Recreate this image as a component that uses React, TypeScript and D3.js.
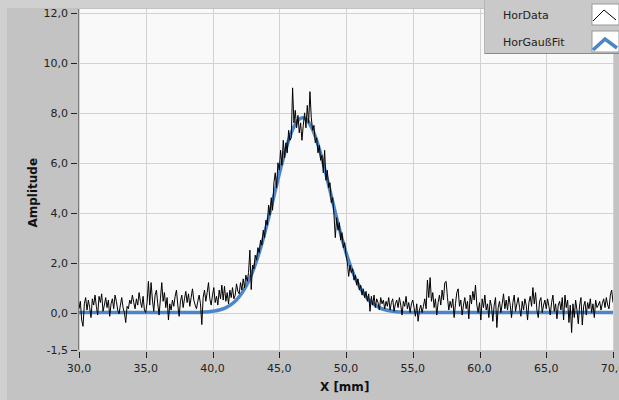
import React, { useRef, useEffect } from 'react';
import * as d3 from 'd3';

// measured signal, one value every 0.1 mm from 30,0 to 70,0
const dataStart = 30;
const dataStep = 0.1;
const horData = [
  0.15, 0.45, -0.3, -0.55, 0.35, 0.6, 0.1, 0.5, 0.2, -0.2,
  0.55, 0.3, 0.7, 0.25, -0.1, 0.65, 0.4, 0.75, 0.05, 0.3,
  0.6, 0.2, 0.5, -0.15, 0.35, 0.55, 0.15, 0.7, 0.45, 0.1,
  -0.05, 0.3, 0.6, 0.2, 0.0, -0.4, 0.25, 0.15, 0.5, 0.35,
  0.7, 0.4, 0.15, 0.55, 0.3, 0.8, 0.45, 0.2, 0.65, 0.1,
  0.0, 0.4, 1.25, 0.3, 1.2, 0.5, 0.05, 0.7, 0.9, 0.35,
  -0.1, 0.55, 1.2, 0.45, 0.8, 0.2, 0.6, -0.3, 0.35, 0.1,
  0.5, 0.25, 0.65, 0.9, 0.3, -0.15, 0.45, 0.7, 0.2, 0.55,
  0.85, 0.4, 0.75, 0.25, 0.6, 0.95, 0.5, 0.3, 0.15, 0.45,
  0.7, 0.35, -0.48, 0.6, 0.9, 0.45, 0.8, 1.2, 0.55, 0.3,
  0.7, 1.0, 0.4, 0.65, 0.3, 0.9, 0.55, 1.1, 0.5, 1.05,
  0.45, 0.8, 0.35, 0.9, 0.6, 1.0, 0.55, 0.7, 1.15, 0.85,
  0.75, 1.2, 0.9, 1.35, 1.0, 1.5, 1.25, 1.6, 2.5, 0.92,
  1.9, 1.75, 2.3, 2.1, 2.6, 2.4, 2.9, 2.7, 3.3, 3.0,
  3.7, 3.5, 4.3, 3.9, 4.6, 4.1, 5.2, 5.6, 5.0, 6.0,
  5.7, 6.5, 5.9, 6.9, 6.2, 6.8, 6.4, 7.3, 6.9, 7.0,
  9.0, 7.6, 8.1, 7.4, 7.9, 7.2, 7.6, 6.9, 7.5, 8.0,
  7.4, 8.3, 7.6, 8.85, 7.8, 7.3, 7.5, 6.8, 7.0, 6.4,
  6.7, 6.1, 6.3, 5.6, 6.5, 5.3, 5.7, 5.0, 5.2, 4.4,
  4.6, 3.9, 3.0, 3.8, 3.3, 3.6, 2.9, 3.2, 2.6, 2.8,
  2.3, 2.0, 1.45, 1.9, 1.6, 1.75, 1.3, 1.5, 1.1, 1.35,
  0.9, 1.1, 0.7, 0.95, 0.6, 0.85, 0.45, 0.75, 0.05, 0.65,
  0.3, 0.7, 0.2, 0.55, 0.4, 0.1, 0.6, 0.35, 0.5, 0.15,
  0.45, 0.25, 0.6, 0.1, 0.4, 0.55, 0.05, 0.35, 0.5, 0.2,
  0.6, 0.3, -0.1, 0.45, 0.25, 0.65, 0.15, 0.4, 0.0, 0.35,
  0.5, 0.2, -0.15, 0.35, -0.35, 0.1, 0.3, 0.0, 0.25, 0.55,
  0.15, 1.3, 0.6, 1.4, 0.45, 0.8, 0.2, 0.55, -0.1, 0.4,
  0.7, 0.3, 0.9, 0.5, 1.2, 1.25, 0.6, 0.1, 0.45, 0.2,
  0.55, -0.2, 0.35, 0.8, 0.95, 0.25, 0.5, -0.1, 0.3, 0.6,
  0.15, 0.45, -0.25, 0.7, 0.35, 0.85, 0.5, 1.1, 0.3, 0.0,
  0.4, -0.3, 0.55, 0.2, 0.7, 0.1, 0.35, -0.2, 0.5, 0.25,
  -0.35, 0.3, 0.6, -0.6, 0.2, 0.45, 0.0, 0.35, 0.75, 0.15,
  0.5, 0.1, 0.65, 0.3, -0.2, 0.4, 0.7, 0.05, 0.35, 0.6,
  0.2, -0.15, 0.45, 0.1, 0.55, 0.3, -0.3, 0.4, 0.65, 0.25,
  1.0, 0.35, 0.8, 0.1, -0.2, 0.45, 0.6, 0.0, 0.3, 0.5,
  0.15, 0.55, 0.25, -0.1, 0.4, 0.7, 0.05, 0.35, -0.25, 0.3,
  0.45, 0.1, 0.6, -0.3, 0.7, 0.2, 0.5, -0.4, 0.3, -0.8,
  0.35, -0.2, 0.5, 0.1, -0.45, 0.3, 0.6, -0.5, 0.25, 0.45,
  -0.1, 0.4, 0.15, 0.55, 0.0, 0.35, -0.2, 0.5, 0.2, 0.3,
  0.45, 0.1, 0.35, 0.55, 0.2, 0.6, 0.3, 0.15, 0.7, 0.9,
  0.4
];

// gauss fit, one value every 0.25 mm from 30,0 to 70,0
const fitStep = 0.25;
const horGaussFit = [
  0, 0, 0, 0, 0, 0, 0, 0, 0, 0,
  0, 0, 0, 0, 0, 0, 0, 0, 0, 0,
  0, 0, 0, 0, 0, 0, 0, 0, 0, 0,
  0, 0, 0, 0, 0, 0, 0,
  0.015, 0.023, 0.033, 0.049, 0.071, 0.101, 0.142, 0.197, 0.27, 0.363,
  0.483, 0.634, 0.82, 1.046, 1.316, 1.632, 1.997, 2.409, 2.866, 3.363,
  3.892, 4.442, 4.999, 5.548, 6.073, 6.556, 6.979, 7.327, 7.586, 7.746,
  7.8,
  7.746, 7.586, 7.327, 6.979, 6.556, 6.073, 5.548, 4.999, 4.442, 3.892,
  3.363, 2.866, 2.409, 1.997, 1.632, 1.316, 1.046, 0.82, 0.634, 0.483,
  0.363, 0.27, 0.197, 0.142, 0.101, 0.071, 0.049, 0.033, 0.023, 0.015,
  0, 0, 0, 0, 0, 0, 0, 0, 0, 0,
  0, 0, 0, 0, 0, 0, 0, 0, 0, 0,
  0, 0, 0, 0, 0, 0, 0, 0, 0, 0,
  0, 0, 0, 0, 0, 0, 0, 0, 0, 0,
  0, 0, 0, 0, 0, 0, 0, 0, 0, 0,
  0, 0, 0, 0, 0, 0, 0, 0, 0, 0,
  0, 0, 0
];

const xTicks = [30, 35, 40, 45, 50, 55, 60, 65, 70];
const yTicks = [-1.5, 0, 2, 4, 6, 8, 10, 12];
const legendLabels = ['HorData', 'HorGaußFit'];

const fitColor = '#4d86c6';
const font = 'Tahoma, "DejaVu Sans", sans-serif';

const HorProfile = () => {
  const ref = useRef<SVGSVGElement>(null);

  useEffect(() => {
    const svg = d3.select(ref.current);
    const width = 619;
    const height = 400;
    svg.selectAll('*').remove();

    const x = d3.scaleLinear().domain([30, 70]).range([79, 613]);
    const y = d3.scaleLinear().domain([-1.5, 12]).range([350, 13]);
    // LabVIEW style: comma decimal, plain hyphen minus
    const fmt = (v: number) => v.toFixed(1).replace('.', ',');

    // panel background
    svg.append('rect').attr('width', width).attr('height', height).attr('fill', '#c3c3c3');
    svg.append('rect').attr('width', width).attr('height', 8).attr('fill', '#d0d0d0');
    svg.append('rect').attr('width', 7).attr('height', height).attr('fill', '#d0d0d0');

    // plot area
    svg.append('rect')
      .attr('x', x(30)).attr('y', 9)
      .attr('width', x(70) - x(30)).attr('height', y(-1.5) - 9)
      .attr('fill', '#f9f9f9');

    const grid = svg.append('g').attr('stroke', '#d2d2d2').attr('stroke-width', 1);
    grid.selectAll('.gx').data(xTicks).enter().append('line')
      .attr('x1', d => Math.round(x(d)) + 0.5).attr('x2', d => Math.round(x(d)) + 0.5)
      .attr('y1', 9).attr('y2', y(-1.5));
    grid.selectAll('.gy').data(yTicks).enter().append('line')
      .attr('x1', x(30)).attr('x2', x(70))
      .attr('y1', d => Math.round(y(d)) + 0.5).attr('y2', d => Math.round(y(d)) + 0.5);

    svg.append('line')
      .attr('x1', x(30) - 0.5).attr('x2', x(30) - 0.5)
      .attr('y1', 9).attr('y2', y(-1.5))
      .attr('stroke', '#7a7a7a');

    svg.append('defs').append('clipPath').attr('id', 'plot-clip')
      .append('rect')
      .attr('x', x(30)).attr('y', 9)
      .attr('width', x(70) - x(30)).attr('height', y(-1.5) - 9);

    const plot = svg.append('g').attr('clip-path', 'url(#plot-clip)');

    const fitLine = d3.line<number>()
      .x((d, i) => x(dataStart + i * fitStep))
      .y(d => y(d))
      .curve(d3.curveMonotoneX);

    plot.append('path')
      .datum(horGaussFit)
      .attr('d', fitLine)
      .attr('fill', 'none')
      .attr('stroke', fitColor)
      .attr('stroke-width', 3.5)
      .attr('stroke-linejoin', 'round');

    const dataLine = d3.line<number>()
      .x((d, i) => x(dataStart + i * dataStep))
      .y(d => y(d));

    plot.append('path')
      .datum(horData)
      .attr('d', dataLine)
      .attr('fill', 'none')
      .attr('stroke', '#000')
      .attr('stroke-width', 1);

    // y axis ticks + labels
    const yAxis = svg.append('g');
    yAxis.selectAll('line').data(yTicks).enter().append('line')
      .attr('x1', 71).attr('x2', 77)
      .attr('y1', d => Math.round(y(d)) + 0.5).attr('y2', d => Math.round(y(d)) + 0.5)
      .attr('stroke', '#222');
    yAxis.selectAll('text').data(yTicks).enter().append('text')
      .attr('x', 68).attr('y', d => y(d) + 4)
      .attr('text-anchor', 'end')
      .attr('font-family', font).attr('font-size', 11).attr('fill', '#222')
      .text(d => fmt(d));

    // x axis ticks + labels
    const xAxis = svg.append('g');
    xAxis.selectAll('line').data(xTicks).enter().append('line')
      .attr('x1', d => Math.round(x(d)) + 0.5).attr('x2', d => Math.round(x(d)) + 0.5)
      .attr('y1', 352).attr('y2', 358)
      .attr('stroke', '#222');
    xAxis.selectAll('text').data(xTicks).enter().append('text')
      .attr('x', d => x(d)).attr('y', 372)
      .attr('text-anchor', 'middle')
      .attr('font-family', font).attr('font-size', 11).attr('fill', '#222')
      .text(d => fmt(d));

    svg.append('text')
      .attr('transform', `translate(37,${y(4.8)}) rotate(-90)`)
      .attr('text-anchor', 'middle')
      .attr('font-family', font).attr('font-size', 12).attr('font-weight', 'bold')
      .attr('fill', '#111')
      .text('Amplitude');

    svg.append('text')
      .attr('x', x(49.9)).attr('y', 391)
      .attr('text-anchor', 'middle')
      .attr('font-family', font).attr('font-size', 12).attr('font-weight', 'bold')
      .attr('fill', '#111')
      .text('X  [mm]');

    // legend
    const legend = svg.append('g');
    legend.append('rect')
      .attr('x', 485).attr('y', 0).attr('width', 134).attr('height', 53)
      .attr('fill', '#c9c9c9');
    legend.append('line')
      .attr('x1', 485).attr('x2', 619).attr('y1', 53.5).attr('y2', 53.5)
      .attr('stroke', '#8a8a8a');
    legend.append('line')
      .attr('x1', 484.5).attr('x2', 484.5).attr('y1', 0).attr('y2', 54)
      .attr('stroke', '#b5b5b5');

    const rows = legend.selectAll('.row').data(legendLabels).enter().append('g')
      .attr('transform', (d, i) => `translate(0,${i * 27})`);
    rows.append('text')
      .attr('x', 503).attr('y', 19)
      .attr('font-family', font).attr('font-size', 11).attr('fill', '#222')
      .text(d => d);
    rows.append('rect')
      .attr('x', 592).attr('y', 4).attr('width', 27).attr('height', 21)
      .attr('fill', '#fff').attr('stroke', '#9a9a9a');
    rows.append('polyline')
      .attr('points', (d, i) => i === 0 ? '593,21 604,10 616,20' : '593,23 605,12 617,21')
      .attr('fill', 'none')
      .attr('stroke', (d, i) => i === 0 ? '#000' : fitColor)
      .attr('stroke-width', (d, i) => i === 0 ? 1 : 3.5);
  }, []);

  return (
    <>
      <style>{`
        body { margin: 0; }
        svg { display: block; }
      `}</style>
      <svg ref={ref} width={619} height={400} />
    </>
  );
};

export default HorProfile;
